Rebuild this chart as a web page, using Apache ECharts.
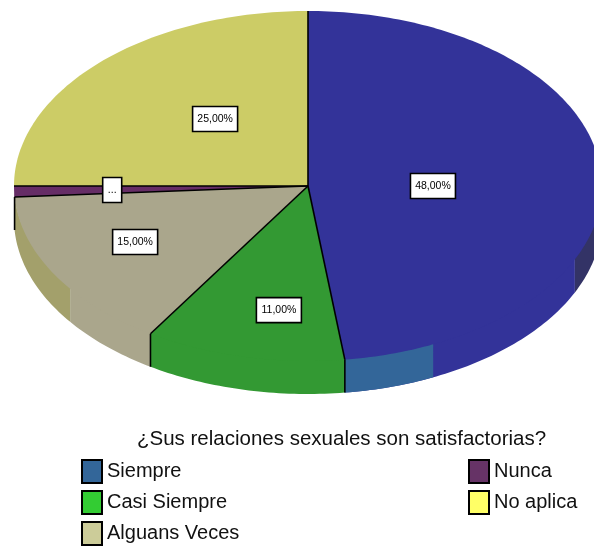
<!DOCTYPE html>
<html><head><meta charset="utf-8">
<script src="https://cdn.jsdelivr.net/npm/echarts@6/dist/echarts.min.js"></script>
<style>html,body{margin:0;padding:0;background:#fff}#c{width:594px;height:546px;filter:blur(0.45px)}</style>
</head><body><div id="c"></div>
<script>
const titleText = '¿Sus relaciones sexuales son satisfactorias?';
const categories = ['Siempre', 'Casi Siempre', 'Alguans Veces', 'Nunca', 'No aplica'];
const values = [48, 11, 15, 1, 25];
const labelTexts = ['48,00%', '11,00%', '15,00%', '...', '25,00%'];
const legendColors = ['#336699', '#33cc33', '#cccc99', '#663366', '#ffff66'];
const faceColors = ['#333399', '#339933', '#aaa68c', '#662d66', '#cccc66'];
// layout and styling only
const CX = 308, CY = 186, RX = 294, RY = 175, DEPTH = 33;
const labelAnchors = [[0.425, 0], [-0.099, 0.709], [-0.588, 0.32], [-0.666, 0.023], [-0.316, -0.383]];
const legendSlots = [[81, 459], [81, 490], [81, 521], [468, 459], [468, 490]];
const wallBands = [
  [[114.8, 172.8, '#333399'], [90, 114.8, '#333366'], [154.8, 172.8, '#336699']],
  [[172.8, 212.4, '#339933']],
  [[212.4, 234, '#aaa68c'], [234, 266.4, '#a3a06b']],
  [[266.4, 270, '#662d66']],
  []
];
const total = values.reduce((a, b) => a + b, 0);
const startFrac = values.map((_, i) => values.slice(0, i).reduce((a, b) => a + b, 0) / total);
const rim = (deg, dy) => {
  const t = deg * Math.PI / 180;
  return [CX + RX * Math.sin(t), CY - RY * Math.cos(t) + (dy || 0)];
};
const arc = (a, b, dy) => {
  const n = Math.max(2, Math.ceil(Math.abs(b - a)));
  const out = [];
  for (let k = 0; k <= n; k++) out.push(rim(a + (b - a) * k / n, dy));
  return out;
};
const line = (p, q, w, z2) => ({
  type: 'line', z2,
  shape: { x1: p[0], y1: p[1], x2: q[0], y2: q[1] },
  style: { stroke: '#000', lineWidth: w }
});
function sliceRenderer(i) {
  return function (params, api) {
    const a0 = startFrac[i] * 360;
    const a1 = a0 + api.value(0) / total * 360;
    const children = [];
    wallBands[i].forEach(b => {
      const pts = arc(b[0], b[1], -2).concat(arc(b[1], b[0], DEPTH));
      children.push({ type: 'polygon', z2: 1, shape: { points: pts }, style: { fill: b[2] } });
    });
    children.push({
      type: 'polygon', z2: 2,
      shape: { points: [[CX, CY]].concat(arc(a0, a1, 0)) },
      style: { fill: faceColors[i] }
    });
    children.push(line([CX, CY], rim(a0, 0), 1.6, 3));
    if (a0 > 90 && a0 < 270) children.push(line(rim(a0, 0), rim(a0, DEPTH), 1.6, 3));
    const w = labelTexts[i].length > 3 ? 45 : 19;
    const ax = CX + labelAnchors[i][0] * RX, ay = CY + labelAnchors[i][1] * RY;
    children.push({
      type: 'rect', z2: 5,
      shape: { x: ax - w / 2, y: ay - 12.5, width: w, height: 25 },
      style: { fill: '#fff', stroke: '#000', lineWidth: 1.6 }
    });
    children.push({
      type: 'text', z2: 6, x: ax, y: ay,
      style: {
        text: labelTexts[i], fill: '#000', align: 'center', verticalAlign: 'middle',
        font: '10.5px "Liberation Sans"'
      }
    });
    return { type: 'group', children };
  };
}
const chart = echarts.init(document.getElementById('c'), null, { renderer: 'canvas' });
chart.setOption({
  animation: false,
  backgroundColor: '#fff',
  title: {
    text: titleText, left: 137, top: 429, padding: 0,
    textStyle: { fontFamily: 'Liberation Sans', fontSize: 20.5, fontWeight: 'normal', color: '#111' }
  },
  legend: categories.map((name, i) => ({
    orient: 'vertical', selectedMode: false, itemWidth: 20, itemHeight: 23,
    padding: 0, left: legendSlots[i][0], top: legendSlots[i][1], data: [name],
    icon: 'rect', itemStyle: { borderColor: '#000', borderWidth: 2 },
    textStyle: { fontFamily: 'Liberation Sans', fontSize: 20, color: '#111' }
  })),
  tooltip: { show: false },
  series: categories.map((name, i) => ({
    type: 'custom', name,
    coordinateSystem: 'none',
    itemStyle: { color: legendColors[i] },
    renderItem: sliceRenderer(i),
    data: [[values[i]]],
    silent: true
  }))
});
</script></body></html>
